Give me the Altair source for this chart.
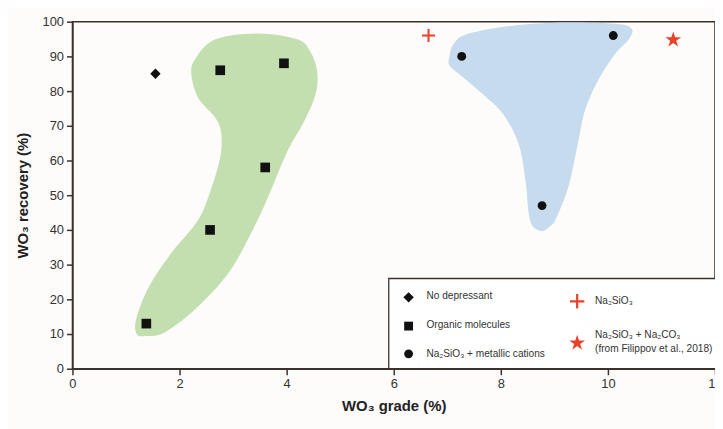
import altair as alt
import pandas as pd

# ---- data ----
nodep_x = [1.55]
nodep_y = [85]
organic_x = [1.38, 2.57, 2.76, 3.6, 3.95]
organic_y = [13, 40, 86, 58, 88]
metal_x = [7.27, 8.77, 10.1]
metal_y = [90, 47, 96]
silicate_x = [6.65]
silicate_y = [96]
carbonate_x = [11.22]
carbonate_y = [94.8]

green_x = [3.46, 4.2, 4.44, 4.57, 4.54, 4.33, 4.02, 3.75, 3.46, 2.96, 2.35, 1.74, 1.37, 1.2, 1.19,
           1.43, 1.85, 2.35, 2.6, 2.76, 2.78, 2.67, 2.35, 2.22, 2.3, 2.67]
green_y = [96.6, 94.9, 91.4, 85.7, 79, 71.4, 62.9, 53, 42.9, 28.6, 18, 10.6, 9.4, 10, 14.3,
           23.7, 33.4, 42.9, 52.3, 60.9, 67.7, 72.3, 78, 84.9, 89.4, 94.9]
blue_x = [7.35, 8.09, 9.02, 10.13, 10.44, 10.4, 10.13, 9.81, 9.57, 9.44, 9.26, 9.02, 8.95, 8.78, 8.6,
          8.52, 8.46, 8.33, 8.04, 7.67, 7.22, 7.04, 7.04, 7.11]
blue_y = [96.3, 98.6, 99.7, 99.4, 98, 95.1, 90.6, 82.9, 74.3, 64.9, 52.3, 42.9, 41.5, 39.7, 41,
          44.9, 54.3, 64.9, 73.4, 79, 84.9, 87.4, 90, 93.4]

legend_labels = ["No depressant", "Organic molecules", "Na\u2082SiO\u2083 + metallic cations",
                 "Na\u2082SiO\u2083", "Na\u2082SiO\u2083 + Na\u2082CO\u2083", "(from Filippov et al., 2018)"]

x_ticks = [0, 2, 4, 6, 8, 10, 12]
y_ticks = [0, 10, 20, 30, 40, 50, 60, 70, 80, 90, 100]

# ---- styles ----
AXIS = "#3d302b"
TXT = "#333333"
RED = "#e8412a"
GREEN = "#c3dfb0"
BLUE = "#c7dbee"
BG = "#fdfcfa"
FONT = "Liberation Sans"
STAR = ("M0,-1L0.2245,-0.309L0.951,-0.309L0.363,0.118L0.588,0.809L0,0.382"
        "L-0.588,0.809L-0.363,0.118L-0.951,-0.309L-0.2245,-0.309Z")
PLUS = "M-1,0L1,0M0,-1L0,1"

xs = alt.Scale(domain=[0, 12], nice=False, zero=False)
ys = alt.Scale(domain=[0, 100], nice=False, zero=False)

X = alt.X("x:Q", scale=xs, axis=alt.Axis(values=x_ticks, format="d", title="WO\u2083 grade (%)"))
Y = alt.Y("y:Q", scale=ys, axis=alt.Axis(values=y_ticks, format="d", title="WO\u2083 recovery (%)"))


def df(xv, yv):
    return pd.DataFrame({"x": xv, "y": yv, "i": list(range(len(xv)))})


green = alt.Chart(df(green_x, green_y)).mark_line(
    filled=True, color=GREEN, interpolate="cardinal-closed", strokeWidth=0
).encode(x=X, y=Y, order="i:Q")
blue = alt.Chart(df(blue_x, blue_y)).mark_line(
    filled=True, color=BLUE, interpolate="cardinal-closed", strokeWidth=0
).encode(x=X, y=Y, order="i:Q")


def pts(xv, yv, shape, size, **kw):
    return alt.Chart(df(xv, yv)).mark_point(shape=shape, size=size, opacity=1, **kw).encode(x=X, y=Y)


p_nodep = pts(nodep_x, nodep_y, "diamond", 110, filled=True, color="#111")
p_org = pts(organic_x, organic_y, "square", 95, filled=True, color="#111")
p_metal = pts(metal_x, metal_y, "circle", 80, filled=True, color="#111")
p_sil = pts(silicate_x, silicate_y, PLUS, 170, filled=False, stroke=RED, strokeWidth=2)
p_carb = pts(carbonate_x, carbonate_y, STAR, 280, filled=True, color=RED)

# ---- legend (drawn by hand, pixel positions inside the plot area) ----
one = pd.DataFrame({"a": [0]})
leg_box = alt.Chart(one).mark_rect(fill="white", stroke=AXIS, strokeWidth=1.3).encode(
    x=alt.value(319), x2=alt.value(660), y=alt.value(259), y2=alt.value(350))


def leg_sym(px, py, shape, size, **kw):
    return alt.Chart(one).mark_point(shape=shape, size=size, opacity=1, **kw).encode(
        x=alt.value(px), y=alt.value(py))


def leg_txt(px, py, text):
    return alt.Chart(pd.DataFrame({"t": [text]})).mark_text(
        align="left", baseline="middle", font=FONT, fontSize=10.2, color=TXT
    ).encode(x=alt.value(px), y=alt.value(py), text="t:N")


legend = [
    leg_box,
    leg_sym(339, 278, "diamond", 110, filled=True, color="#111"),
    leg_sym(339, 307, "square", 80, filled=True, color="#111"),
    leg_sym(339, 335, "circle", 80, filled=True, color="#111"),
    leg_sym(509, 282, PLUS, 210, filled=False, stroke=RED, strokeWidth=2.2),
    leg_sym(509, 324, STAR, 280, filled=True, color=RED),
    leg_txt(357, 277, legend_labels[0]),
    leg_txt(357, 306, legend_labels[1]),
    leg_txt(357, 335, legend_labels[2]),
    leg_txt(527, 282, legend_labels[3]),
    leg_txt(527, 316, legend_labels[4]),
    leg_txt(527, 330, legend_labels[5]),
]

chart = alt.layer(green, blue, p_nodep, p_org, p_metal, p_sil, p_carb, *legend).properties(
    width=648, height=350,
    autosize=alt.AutoSizeParams(type="none"),
    padding={"left": 65, "top": 12, "right": 0, "bottom": 60},
    background=BG,
).configure_view(
    stroke=AXIS, strokeWidth=1.5, fill=BG
).configure_axis(
    grid=False, domainColor=AXIS, domainWidth=1.5, tickColor=AXIS, tickWidth=1.5, tickSize=6,
    labelFontSize=13, labelColor=TXT, labelFont=FONT, labelPadding=3, labelFlush=False,
    titleFont=FONT, titleFontSize=15, titleColor="#222"
).configure_axisX(titlePadding=8).configure_axisY(titlePadding=12)

chart.save("out.html", embed_options={"renderer": "svg", "actions": False})
